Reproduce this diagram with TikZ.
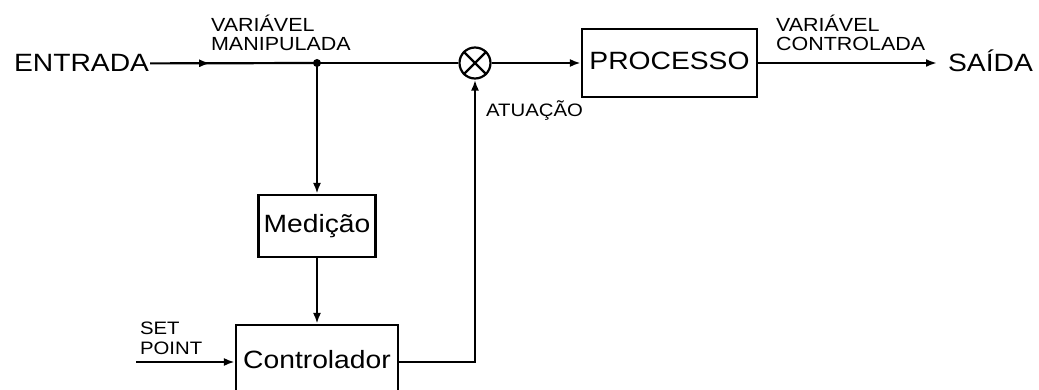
\documentclass[tikz,border=0pt]{standalone}
\usepackage{fontspec}
\setmainfont{Liberation Sans}[FakeStretch=1.13]
\usetikzlibrary{arrows.meta,decorations.markings}

\begin{document}
\begin{tikzpicture}[x=1pt,y=-1pt,line width=2.2pt,
		seta/.style={-{Latex[length=11pt,width=8pt]}},
		bloco/.style={draw,inner sep=0pt,text height=18pt,text depth=5pt,font=\fontsize{25}{25}\selectfont},
		rotulo/.style={inner sep=0pt,align=left,font=\fontsize{19}{19}\selectfont},
		texto/.style={inner sep=0pt,font=\fontsize{25}{25}\selectfont}]
	
	\useasboundingbox (0,0) rectangle (1039,390);
	\clip (0,0) rectangle (1039,390);
	
	%entrada e saida
	\node[texto,anchor=base west] (entrada) at (13,72) {ENTRADA};
	\node[texto,anchor=base west] (saida) at (947,72) {SAÍDA};
	\coordinate (fim) at (937,63);
	
	%blocos
	\node[bloco,minimum width=175pt,minimum height=68pt] (proc) at (669.5,63) {PROCESSO};
	\node[bloco,minimum width=117pt,minimum height=62pt] (medi) at (317,226) {Medição};
	\node[bloco,minimum width=162pt,minimum height=74pt] (ctrl) at (317,362) {Controlador};
	
	%somador
	\node[draw,circle,minimum size=31pt,inner sep=0pt] (soma) at (475,63) {};
	\draw (soma.north west) -- (soma.south east);
	\draw (soma.north east) -- (soma.south west);
	
	%ramificacao
	\coordinate (ramo) at (317,63);
	\fill (ramo) circle (4);
	
	%set point
	\coordinate (sp) at (136,362);
	
	%ligacoes
	\draw[postaction={decorate},decoration={markings,
		mark=at position 0.36 with {\arrow{Latex[length=11pt,width=8pt]}}}]
		(entrada.east) -- (ramo);
	\draw (ramo) -- (soma);
	\draw[seta] (soma) -- (proc);
	\draw[seta] (proc) -- (fim);
	\draw[seta] (ramo) -- (medi);
	\draw[seta] (medi) -- (ctrl);
	\draw[seta] (sp) -- (ctrl);
	\draw[seta] (ctrl.east) -| (soma.south);
	
	%rotulos
	\node[rotulo,anchor=south west] (vman) at (210,52) {VARIÁVEL\\MANIPULADA};
	\node[rotulo,anchor=south west] (vcon) at (775,52) {VARIÁVEL\\CONTROLADA};
	\node[rotulo,anchor=base west,font=\fontsize{18}{18}\selectfont] (atua) at (485,117) {ATUAÇÃO};
	\node[rotulo,anchor=south west,font=\fontsize{18}{20}\selectfont] (setp) at (139,356) {SET\\POINT};
	
\end{tikzpicture}
\end{document}
